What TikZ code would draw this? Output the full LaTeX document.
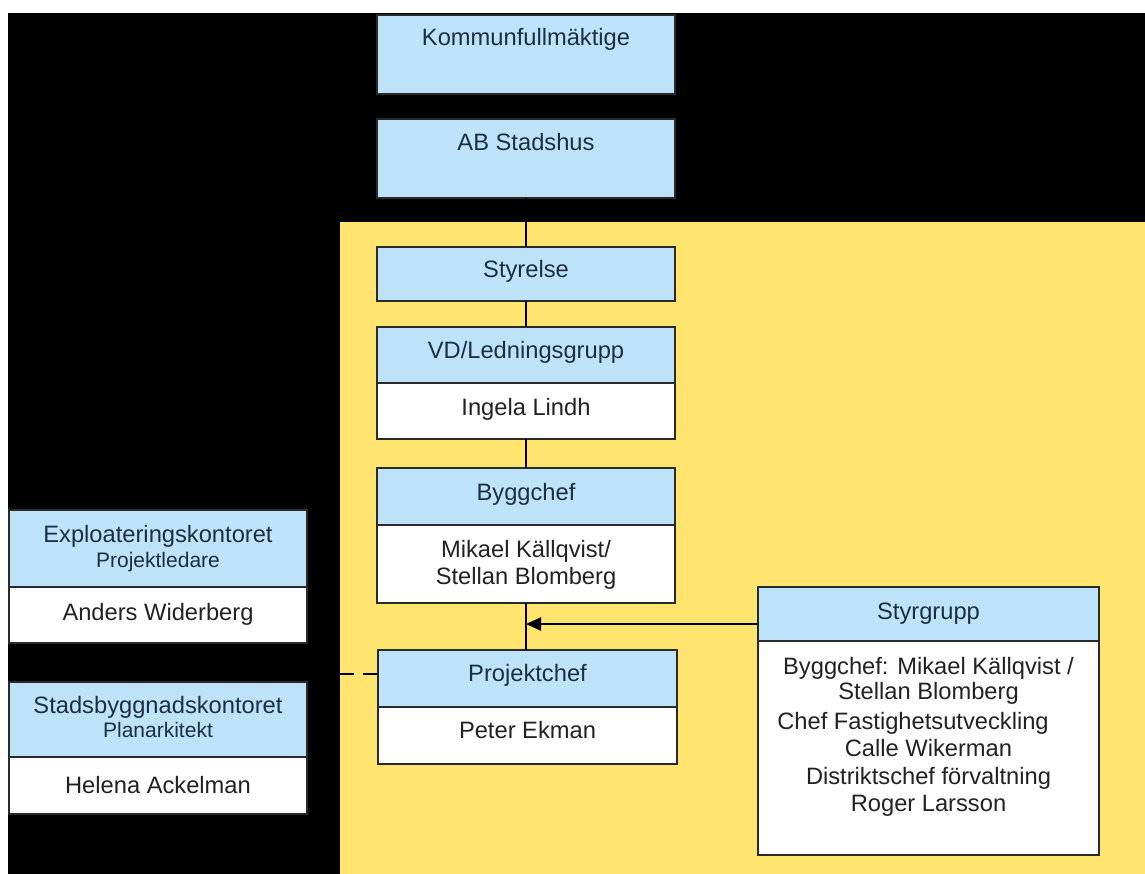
\documentclass[tikz,border=0pt]{standalone}
\usepackage{fontspec}
\setmainfont{Liberation Sans}
\usetikzlibrary{arrows.meta,calc}
\definecolor{boxblue}{HTML}{BEE3F8}
\definecolor{bgyellow}{HTML}{FFE470}
\definecolor{hdrtext}{HTML}{1C2E45}
\definecolor{bodytext}{HTML}{222222}
\definecolor{edgec}{HTML}{2A2A2A}
\begin{document}
\begin{tikzpicture}[x=1pt,y=-1pt,
  part/.style={draw=edgec,line width=1.8pt,anchor=north west,inner sep=0pt,outer sep=0pt},
  hdr/.style={part,fill=boxblue},
  bodybox/.style={part,fill=white},
  ht/.style={anchor=base,text=hdrtext,font=\fontsize{23.7}{27}\selectfont,inner sep=0pt},
  bt/.style={anchor=base,text=bodytext,font=\fontsize{23.7}{27}\selectfont,inner sep=0pt},
  st/.style={anchor=base,text=hdrtext,font=\fontsize{21}{24}\selectfont,inner sep=0pt},
  link/.style={draw=black,line width=2.4pt},
  dlink/.style={draw=black,line width=2.4pt,dash pattern=on 14pt off 9pt},
  arr/.style={link,-{Triangle[length=15pt,width=13pt]}}
]
\useasboundingbox (0,0) rectangle (1145,874);
\fill[white] (0,0) rectangle (1145,874);
\fill[black] (8,13) rectangle (1145,874);
\fill[bgyellow] (340,222) rectangle (1145,874);

% central column
\node[hdr,minimum width=298pt,minimum height=79pt] (kom) at (377,15) {};
\node[hdr,minimum width=298pt,minimum height=79pt] (ab) at (377,119) {};
\node[hdr,minimum width=298pt,minimum height=54pt] (sty) at (377,247) {};
\node[hdr,minimum width=298pt,minimum height=56pt] (vd) at (377,327) {};
\node[bodybox,minimum width=298pt,minimum height=56pt] (vdb) at (377,383) {};
\node[hdr,minimum width=298pt,minimum height=57pt] (bc) at (377,468) {};
\node[bodybox,minimum width=298pt,minimum height=78pt] (bcb) at (377,525) {};
\node[hdr,minimum width=299pt,minimum height=57pt] (pc) at (378,650) {};
\node[bodybox,minimum width=299pt,minimum height=57pt] (pcb) at (378,707) {};

% left column
\node[hdr,minimum width=298pt,minimum height=77pt] (ex) at (9,510) {};
\node[bodybox,minimum width=298pt,minimum height=56pt] (exb) at (9,587) {};
\node[hdr,minimum width=298pt,minimum height=75pt] (sb) at (9,682) {};
\node[bodybox,minimum width=298pt,minimum height=57pt] (sbb) at (9,757) {};

% right box
\node[hdr,minimum width=341pt,minimum height=54pt] (sg) at (758,587) {};
\node[bodybox,minimum width=341pt,minimum height=214pt] (sgb) at (758,641) {};

% texts
\node[ht] (t1) at (526,46) {Kommunfullmäktige};
\node[ht] (t2) at (526,151) {AB Stadshus};
\node[ht] (t3) at (526,278) {Styrelse};
\node[ht] (t4) at (526,358) {VD/Ledningsgrupp};
\node[bt] (t5) at (526,415) {Ingela Lindh};
\node[ht] (t6) at (526,500) {Byggchef};
\node[bt] (t7) at (526,557) {Mikael Källqvist/};
\node[bt] (t8) at (526,584) {Stellan Blomberg};
\node[ht] (t9) at (527.5,681) {Projektchef};
\node[bt] (t10) at (527.5,738) {Peter Ekman};

\node[ht] (t11) at (158,542) {Exploateringskontoret};
\node[st] (t12) at (158,567) {Projektledare};
\node[bt] (t13) at (158,620) {Anders Widerberg};
\node[ht] (t14) at (158,713) {Stadsbyggnadskontoret};
\node[st] (t15) at (158,737) {Planarkitekt};
\node[bt] (t16) at (158,793) {Helena Ackelman};

\node[ht] (t17) at (928.5,619) {Styrgrupp};
\node[bt] (t18) at (928.5,674) {Byggchef: Mikael Källqvist /};
\node[bt] (t19) at (928.5,699) {Stellan Blomberg};
\node[bt] (t20) at (913,729) {Chef Fastighetsutveckling};
\node[bt] (t21) at (928.5,756) {Calle Wikerman};
\node[bt] (t22) at (928.5,784) {Distriktschef förvaltning};
\node[bt] (t23) at (928.5,811) {Roger Larsson};

% connectors
\draw[link] (ab.south) -- (sty.north);
\draw[link] (sty.south) -- (vd.north);
\draw[link] (vdb.south) -- (bc.north);
\draw[link] (bcb.south) -- (bcb.south |- pc.north);
\path (bcb.south) ++(0,21) coordinate (jn);
\draw[arr] (sg.west |- jn) -- (jn);
\coordinate (dj) at (340,674);
\draw[dlink] (dj) -- (pc.west |- dj);
\end{tikzpicture}
\end{document}
